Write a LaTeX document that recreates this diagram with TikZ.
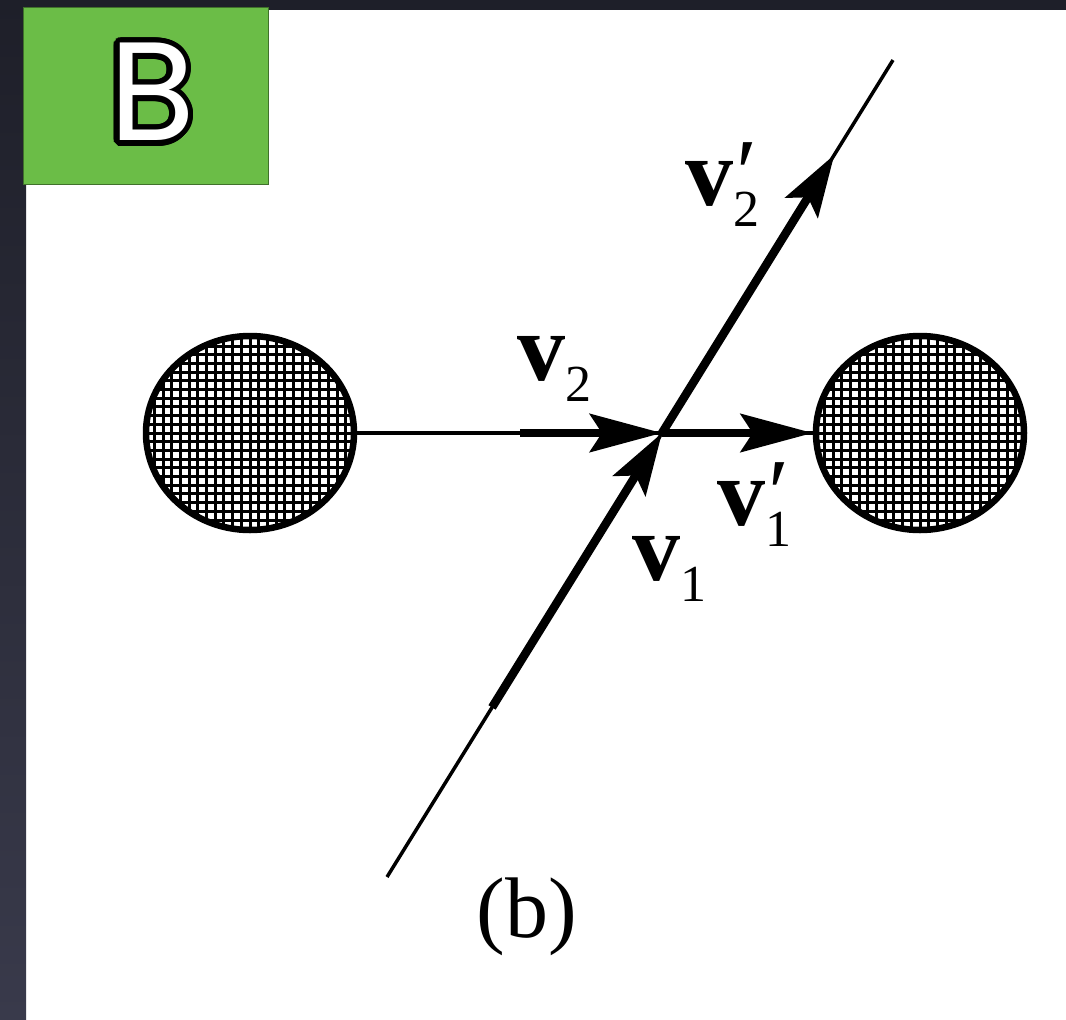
\documentclass[tikz,border=0pt]{standalone}
\usepackage{fontspec}
\setmainfont{Liberation Serif}
\newfontfamily\tagfont{Poppins}
\usetikzlibrary{arrows.meta,shapes.geometric,calc}
\definecolor{frame}{RGB}{30,31,41}
\definecolor{framelow}{RGB}{57,58,75}
\definecolor{tabgreen}{RGB}{107,189,71}
\newcommand{\ringed}[1]{%
  \foreach \a in {0,15,...,345}{%
    \makebox[0pt][l]{\hspace*{\fpeval{round(5.5*cosd(\a),3)}pt}\raisebox{\fpeval{round(5.5*sind(\a),3)}pt}{\color{black}#1}}}%
  \textcolor{white}{#1}}
\newcommand{\prm}{\hspace{3pt}{\char"2032}}
\newcommand{\vlab}[2]{\textbf{v}\rlap{\raisebox{-21pt}{\fontsize{52}{52}\selectfont#1}}#2}
\tikzset{
  ball/.style={ellipse,draw,line width=6.5pt,minimum width=208pt,minimum height=194pt,inner sep=0pt,
    path picture={\draw[line width=3pt,step=8.7pt] (path picture bounding box.south west) grid (path picture bounding box.north east);}},
  track/.style={line width=3.5pt},
  vec/.style={line width=8.5pt,-{Stealth[length=#1,width=38pt,inset=12pt]}},
  vec/.default=70pt,
  lbl/.style={font=\fontsize{96}{96}\selectfont,inner sep=0pt,anchor=base west},
  tab/.style={rectangle,fill=tabgreen,draw=tabgreen!60!black,line width=1pt,minimum width=245pt,minimum height=177pt}
}
\begin{document}
\begin{tikzpicture}[x=1pt,y=-1pt]
  \useasboundingbox (0,0) rectangle (1066,1020);
  \fill[white] (0,0) rectangle (1066,1020);
  \shade[top color=frame,bottom color=framelow] (0,0) rectangle (26,1020);
  \fill[frame] (0,0) rectangle (1066,10);
  \node[tab] (tab) at (145.5,95.5) {};
  \node[font=\tagfont\fontsize{140}{140}\selectfont,inner sep=0pt] (letter) at (152,92) {\ringed{B}};

  \node[ball] (left) at (250,433) {};
  \node[ball] (right) at (920,433) {};
  \coordinate (hit) at (662,433);
  \coordinate (tail) at (387,877);
  \coordinate (head) at ($(tail)!1.84!(hit)$);
  \coordinate (v2s) at (520,433);
  \draw[track] (left) -- (right);
  \draw[track] (tail) -- (head);
  \draw[vec=72pt] (v2s) -- (hit);
  \draw[vec=72pt] (hit) -- (right.west);
  \draw[vec=62pt] ($(hit)!0.618!(tail)$) -- (hit);
  \draw[vec=62pt] (hit) -- ($(hit)!0.746!(head)$);

  \node[lbl] (v2) at (517,380) {\vlab{2}{}};
  \node[lbl] (v1) at (632,580) {\vlab{1}{}};
  \node[lbl] (v1p) at (717,525) {\vlab{1}{\prm}};
  \node[lbl] (v2p) at (685,205) {\vlab{2}{\prm}};
  \node[font=\fontsize{86}{86}\selectfont,inner sep=0pt,anchor=base] (cap) at (527,937) {(b)};
\end{tikzpicture}
\end{document}
